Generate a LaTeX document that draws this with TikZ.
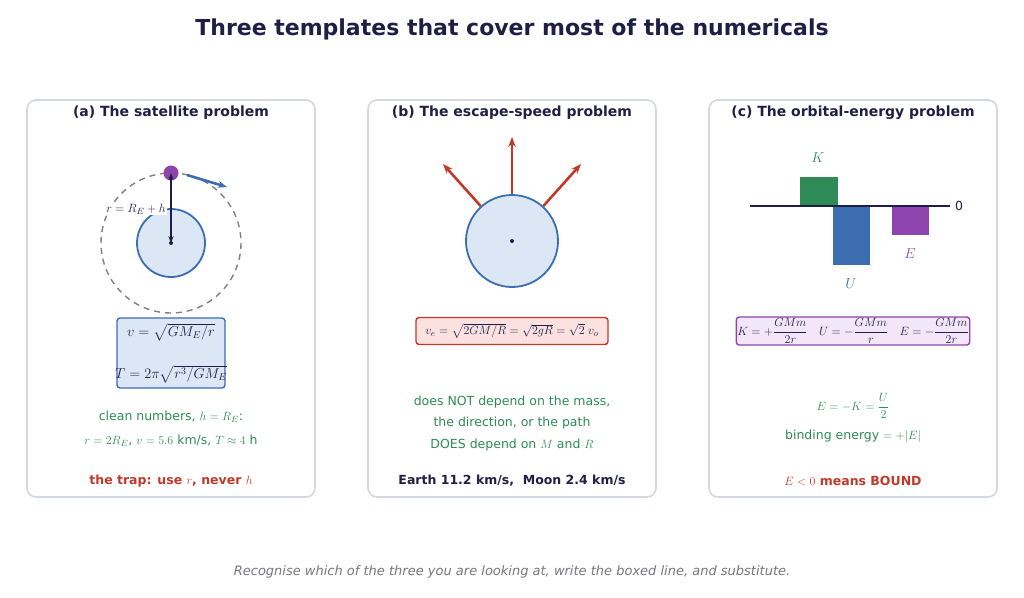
\documentclass[tikz,border=0pt]{standalone}
\usepackage{amsmath}
\usepackage{fontspec}
\setmainfont{DejaVu Sans}
\usetikzlibrary{arrows.meta}
\definecolor{navy}{HTML}{1F1F45}
\definecolor{frame}{HTML}{D4D6E2}
\definecolor{earth}{HTML}{DCE7F5}
\definecolor{eblue}{HTML}{3C6DB0}
\definecolor{egreen}{HTML}{2E8B57}
\definecolor{ered}{HTML}{C0392B}
\definecolor{epurple}{HTML}{8E44AD}
\definecolor{pinkbg}{HTML}{FCE1E1}
\definecolor{lilac}{HTML}{F3E6F8}
\tikzset{
  panel/.style={draw=frame, line width=1.6pt, rounded corners=9pt},
  ptitle/.style={font=\bfseries\fontsize{14}{16}\selectfont, text=navy},
  note/.style={font=\fontsize{12.5}{15}\selectfont, text=egreen},
  trap/.style={font=\bfseries\fontsize{12.5}{15}\selectfont, text=ered},
  fbox/.style={rounded corners=3pt, line width=1.4pt, text=navy, font=\fontsize{13}{15}\selectfont},
  mlab/.style={font=\fontsize{14}{16}\selectfont},
}
\begin{document}
\begin{tikzpicture}[x=1pt,y=-1pt]
	\useasboundingbox (0,0) rectangle (1024,597);
	
	\node[font=\bfseries\fontsize{22}{26}\selectfont, text=navy] (title) at (512,29) {Three templates that cover most of the numericals};
	
	\draw[panel] (27,100) rectangle (315,497);
	\draw[panel] (368,100) rectangle (656,497);
	\draw[panel] (709,100) rectangle (997,497);
	
	% (a) satellite
	\node[ptitle] (ta) at (171,113) {(a) The satellite problem};
	\draw[gray, dash pattern=on 6pt off 5pt, line width=1.4pt] (171,243) circle (70);
	\node[circle, draw=eblue, fill=earth, line width=1.8pt, minimum size=68pt, inner sep=0] (earthA) at (171,243) {};
	\fill[navy] (171,243) circle (2);
	\node[circle, fill=epurple, minimum size=15pt, inner sep=0] (sat) at (171,173) {};
	\draw[{Stealth[length=7pt]}-{Stealth[length=7pt]}, navy, line width=1.6pt] (sat.center) -- (earthA.center);
	\coordinate (vtail) at (187,175);
	\coordinate (vhead) at (227,187);
	\draw[-{Stealth[length=9pt]}, eblue, line width=2.6pt] (vtail) -- (vhead);
	\node[fill=white, inner sep=1pt, text=navy, font=\fontsize{13}{15}\selectfont] (rlab) at (136,209) {$r=R_E+h$};
	\node[fbox, draw=eblue, fill=earth, minimum width=108pt, minimum height=70pt] (boxA) at (171,353) {};
	\node[text=navy, font=\fontsize{14}{16}\selectfont] (vA) at (171,332) {$v=\sqrt{GM_E/r}$};
	\node[text=navy, font=\fontsize{14}{16}\selectfont] (TA) at (171,374) {$T=2\pi\sqrt{r^3/GM_E}$};
	\node[note] (na1) at (171,417) {clean numbers, $h=R_E$:};
	\node[note] (na2) at (171,441) {$r=2R_E$, $v=5.6$ km/s, $T\approx4$ h};
	\node[trap] (na3) at (171,481) {the trap: use $r$, never $h$};
	
	% (b) escape speed
	\node[ptitle] (tb) at (512,113) {(b) The escape-speed problem};
	\node[circle, draw=eblue, fill=earth, line width=1.8pt, minimum size=92pt, inner sep=0] (earthB) at (512,241) {};
	\fill[navy] (512,241) circle (2);
	\coordinate (up) at (512,137);
	\coordinate (ul) at (443,164);
	\coordinate (ur) at (581,164);
	\foreach \t in {up,ul,ur}
		\draw[-{Stealth[length=10pt]}, ered, line width=2.6pt] (earthB) -- (\t);
	\node[fbox, draw=ered, fill=pinkbg, minimum width=192pt, minimum height=27pt] (boxB) at (512,331) {$v_e=\sqrt{2GM/R}=\sqrt{2gR}=\sqrt{2}\;v_o$};
	\node[note] (nb1) at (512,402) {does NOT depend on the mass,};
	\node[note] (nb2) at (512,423) {the direction, or the path};
	\node[note] (nb3) at (512,445) {DOES depend on $M$ and $R$};
	\node[font=\bfseries\fontsize{12.5}{15}\selectfont, text=navy] (nb4) at (512,481) {Earth 11.2 km/s,\ \ Moon 2.4 km/s};
	
	% (c) orbital energy
	\node[ptitle] (tc) at (853,113) {(c) The orbital-energy problem};
	\draw[navy, line width=2pt] (750,206) -- (950,206);
	\node[font=\fontsize{12.5}{15}\selectfont, text=navy] (zero) at (959,206) {0};
	\fill[egreen] (800,177) rectangle (838,205);
	\fill[eblue] (833,207) rectangle (870,265);
	\fill[epurple] (892,207) rectangle (929,235);
	\node[mlab, text=egreen] (lK) at (818,158) {$K$};
	\node[mlab, text=eblue] (lU) at (851,284) {$U$};
	\node[mlab, text=epurple] (lE) at (910,254) {$E$};
	\node[fbox, draw=epurple, fill=lilac, minimum width=216pt, minimum height=28pt, inner sep=1pt, font=\fontsize{11.5}{12}\selectfont] (boxC) at (853,331) {$K=+\dfrac{GMm}{2r}\quad U=-\dfrac{GMm}{r}\quad E=-\dfrac{GMm}{2r}$};
	\node[note] (nc1) at (853,406) {$E=-K=\dfrac{U}{2}$};
	\node[note] (nc2) at (853,436) {binding energy $=+|E|$};
	\node[trap] (nc3) at (853,481) {$E<0$ means BOUND};
	
	\node[font=\itshape\fontsize{13}{15}\selectfont, text=gray!90!navy] (foot) at (512,572) {Recognise which of the three you are looking at, write the boxed line, and substitute.};
\end{tikzpicture}
\end{document}
